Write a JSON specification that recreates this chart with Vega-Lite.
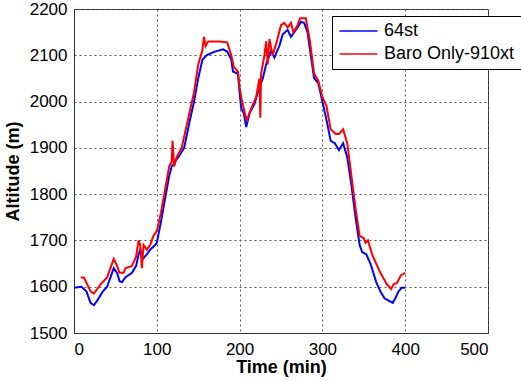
{
  "$schema": "https://vega.github.io/schema/vega-lite/v6.json",
  "width": 414,
  "height": 324,
  "autosize": {"type": "none"},
  "padding": {"left": 74, "top": 9, "right": 33, "bottom": 48},
  "background": "white",
  "config": {
    "view": {"stroke": "#333333", "strokeWidth": 1},
    "font": "Liberation Sans",
    "axis": {"grid": true, "gridColor": "#555555", "gridDash": [2, 3], "gridWidth": 1, "gridOpacity": 1}
  },
  "data": {
    "values": [
      {"t": 0, "alt": 1598, "s": "64st"},
      {"t": 9, "alt": 1600, "s": "64st"},
      {"t": 15, "alt": 1590, "s": "64st"},
      {"t": 20, "alt": 1565, "s": "64st"},
      {"t": 24, "alt": 1560, "s": "64st"},
      {"t": 28, "alt": 1570, "s": "64st"},
      {"t": 35, "alt": 1590, "s": "64st"},
      {"t": 40, "alt": 1600, "s": "64st"},
      {"t": 45, "alt": 1625, "s": "64st"},
      {"t": 48, "alt": 1640, "s": "64st"},
      {"t": 52, "alt": 1630, "s": "64st"},
      {"t": 55, "alt": 1612, "s": "64st"},
      {"t": 58, "alt": 1610, "s": "64st"},
      {"t": 62, "alt": 1620, "s": "64st"},
      {"t": 70, "alt": 1630, "s": "64st"},
      {"t": 75, "alt": 1645, "s": "64st"},
      {"t": 78, "alt": 1670, "s": "64st"},
      {"t": 80, "alt": 1680, "s": "64st"},
      {"t": 83, "alt": 1660, "s": "64st"},
      {"t": 88, "alt": 1670, "s": "64st"},
      {"t": 92, "alt": 1680, "s": "64st"},
      {"t": 98, "alt": 1690, "s": "64st"},
      {"t": 100, "alt": 1695, "s": "64st"},
      {"t": 105, "alt": 1740, "s": "64st"},
      {"t": 110, "alt": 1790, "s": "64st"},
      {"t": 115, "alt": 1840, "s": "64st"},
      {"t": 118, "alt": 1860, "s": "64st"},
      {"t": 122, "alt": 1870, "s": "64st"},
      {"t": 128, "alt": 1885, "s": "64st"},
      {"t": 133, "alt": 1900, "s": "64st"},
      {"t": 140, "alt": 1960, "s": "64st"},
      {"t": 145, "alt": 2000, "s": "64st"},
      {"t": 150, "alt": 2050, "s": "64st"},
      {"t": 155, "alt": 2090, "s": "64st"},
      {"t": 160, "alt": 2100, "s": "64st"},
      {"t": 170, "alt": 2108, "s": "64st"},
      {"t": 180, "alt": 2113, "s": "64st"},
      {"t": 185, "alt": 2108, "s": "64st"},
      {"t": 190, "alt": 2090, "s": "64st"},
      {"t": 192, "alt": 2065, "s": "64st"},
      {"t": 198, "alt": 2060, "s": "64st"},
      {"t": 200, "alt": 2020, "s": "64st"},
      {"t": 202, "alt": 1985, "s": "64st"},
      {"t": 205, "alt": 1975, "s": "64st"},
      {"t": 208, "alt": 1945, "s": "64st"},
      {"t": 212, "alt": 1975, "s": "64st"},
      {"t": 218, "alt": 1995, "s": "64st"},
      {"t": 222, "alt": 2020, "s": "64st"},
      {"t": 228, "alt": 2050, "s": "64st"},
      {"t": 232, "alt": 2080, "s": "64st"},
      {"t": 238, "alt": 2110, "s": "64st"},
      {"t": 242, "alt": 2095, "s": "64st"},
      {"t": 248, "alt": 2120, "s": "64st"},
      {"t": 252, "alt": 2145, "s": "64st"},
      {"t": 258, "alt": 2155, "s": "64st"},
      {"t": 262, "alt": 2140, "s": "64st"},
      {"t": 266, "alt": 2150, "s": "64st"},
      {"t": 270, "alt": 2160, "s": "64st"},
      {"t": 274, "alt": 2172, "s": "64st"},
      {"t": 278, "alt": 2170, "s": "64st"},
      {"t": 282, "alt": 2150, "s": "64st"},
      {"t": 286, "alt": 2100, "s": "64st"},
      {"t": 290, "alt": 2050, "s": "64st"},
      {"t": 295, "alt": 2040, "s": "64st"},
      {"t": 300, "alt": 2000, "s": "64st"},
      {"t": 305, "alt": 1960, "s": "64st"},
      {"t": 310, "alt": 1915, "s": "64st"},
      {"t": 315, "alt": 1910, "s": "64st"},
      {"t": 320, "alt": 1895, "s": "64st"},
      {"t": 325, "alt": 1910, "s": "64st"},
      {"t": 330, "alt": 1880, "s": "64st"},
      {"t": 335, "alt": 1820, "s": "64st"},
      {"t": 340, "alt": 1750, "s": "64st"},
      {"t": 345, "alt": 1690, "s": "64st"},
      {"t": 348, "alt": 1675, "s": "64st"},
      {"t": 353, "alt": 1670, "s": "64st"},
      {"t": 358, "alt": 1650, "s": "64st"},
      {"t": 365, "alt": 1610, "s": "64st"},
      {"t": 370, "alt": 1590, "s": "64st"},
      {"t": 375, "alt": 1575, "s": "64st"},
      {"t": 380, "alt": 1570, "s": "64st"},
      {"t": 385, "alt": 1565, "s": "64st"},
      {"t": 388, "alt": 1575, "s": "64st"},
      {"t": 392, "alt": 1590, "s": "64st"},
      {"t": 396, "alt": 1598, "s": "64st"},
      {"t": 400, "alt": 1598, "s": "64st"},
      {"t": 8, "alt": 1620, "s": "Baro Only-910xt"},
      {"t": 12, "alt": 1620, "s": "Baro Only-910xt"},
      {"t": 16, "alt": 1605, "s": "Baro Only-910xt"},
      {"t": 20, "alt": 1590, "s": "Baro Only-910xt"},
      {"t": 24, "alt": 1585, "s": "Baro Only-910xt"},
      {"t": 28, "alt": 1595, "s": "Baro Only-910xt"},
      {"t": 32, "alt": 1605, "s": "Baro Only-910xt"},
      {"t": 40, "alt": 1620, "s": "Baro Only-910xt"},
      {"t": 45, "alt": 1645, "s": "Baro Only-910xt"},
      {"t": 48, "alt": 1660, "s": "Baro Only-910xt"},
      {"t": 52, "alt": 1645, "s": "Baro Only-910xt"},
      {"t": 55, "alt": 1630, "s": "Baro Only-910xt"},
      {"t": 60, "alt": 1630, "s": "Baro Only-910xt"},
      {"t": 62, "alt": 1640, "s": "Baro Only-910xt"},
      {"t": 70, "alt": 1645, "s": "Baro Only-910xt"},
      {"t": 75, "alt": 1665, "s": "Baro Only-910xt"},
      {"t": 78, "alt": 1700, "s": "Baro Only-910xt"},
      {"t": 80, "alt": 1690, "s": "Baro Only-910xt"},
      {"t": 82, "alt": 1640, "s": "Baro Only-910xt"},
      {"t": 84, "alt": 1690, "s": "Baro Only-910xt"},
      {"t": 88, "alt": 1680, "s": "Baro Only-910xt"},
      {"t": 92, "alt": 1690, "s": "Baro Only-910xt"},
      {"t": 96, "alt": 1710, "s": "Baro Only-910xt"},
      {"t": 100, "alt": 1720, "s": "Baro Only-910xt"},
      {"t": 105, "alt": 1760, "s": "Baro Only-910xt"},
      {"t": 110, "alt": 1810, "s": "Baro Only-910xt"},
      {"t": 115, "alt": 1860, "s": "Baro Only-910xt"},
      {"t": 118, "alt": 1870, "s": "Baro Only-910xt"},
      {"t": 119, "alt": 1915, "s": "Baro Only-910xt"},
      {"t": 121, "alt": 1860, "s": "Baro Only-910xt"},
      {"t": 124, "alt": 1880, "s": "Baro Only-910xt"},
      {"t": 130, "alt": 1900, "s": "Baro Only-910xt"},
      {"t": 140, "alt": 1980, "s": "Baro Only-910xt"},
      {"t": 145, "alt": 2020, "s": "Baro Only-910xt"},
      {"t": 150, "alt": 2080, "s": "Baro Only-910xt"},
      {"t": 155, "alt": 2110, "s": "Baro Only-910xt"},
      {"t": 157, "alt": 2140, "s": "Baro Only-910xt"},
      {"t": 159, "alt": 2120, "s": "Baro Only-910xt"},
      {"t": 162, "alt": 2130, "s": "Baro Only-910xt"},
      {"t": 175, "alt": 2130, "s": "Baro Only-910xt"},
      {"t": 185, "alt": 2128, "s": "Baro Only-910xt"},
      {"t": 190, "alt": 2100, "s": "Baro Only-910xt"},
      {"t": 193, "alt": 2075, "s": "Baro Only-910xt"},
      {"t": 198, "alt": 2065, "s": "Baro Only-910xt"},
      {"t": 200, "alt": 2030, "s": "Baro Only-910xt"},
      {"t": 203, "alt": 2000, "s": "Baro Only-910xt"},
      {"t": 207, "alt": 1970, "s": "Baro Only-910xt"},
      {"t": 209, "alt": 1960, "s": "Baro Only-910xt"},
      {"t": 214, "alt": 1985, "s": "Baro Only-910xt"},
      {"t": 220, "alt": 2010, "s": "Baro Only-910xt"},
      {"t": 224, "alt": 2050, "s": "Baro Only-910xt"},
      {"t": 225, "alt": 1965, "s": "Baro Only-910xt"},
      {"t": 226, "alt": 2060, "s": "Baro Only-910xt"},
      {"t": 230, "alt": 2100, "s": "Baro Only-910xt"},
      {"t": 232, "alt": 2130, "s": "Baro Only-910xt"},
      {"t": 234, "alt": 2080, "s": "Baro Only-910xt"},
      {"t": 236, "alt": 2135, "s": "Baro Only-910xt"},
      {"t": 240, "alt": 2100, "s": "Baro Only-910xt"},
      {"t": 245, "alt": 2130, "s": "Baro Only-910xt"},
      {"t": 250, "alt": 2165, "s": "Baro Only-910xt"},
      {"t": 254, "alt": 2170, "s": "Baro Only-910xt"},
      {"t": 258, "alt": 2160, "s": "Baro Only-910xt"},
      {"t": 262, "alt": 2170, "s": "Baro Only-910xt"},
      {"t": 265, "alt": 2150, "s": "Baro Only-910xt"},
      {"t": 270, "alt": 2165, "s": "Baro Only-910xt"},
      {"t": 273, "alt": 2180, "s": "Baro Only-910xt"},
      {"t": 280, "alt": 2180, "s": "Baro Only-910xt"},
      {"t": 285, "alt": 2130, "s": "Baro Only-910xt"},
      {"t": 290, "alt": 2060, "s": "Baro Only-910xt"},
      {"t": 295, "alt": 2045, "s": "Baro Only-910xt"},
      {"t": 300, "alt": 2010, "s": "Baro Only-910xt"},
      {"t": 305, "alt": 1990, "s": "Baro Only-910xt"},
      {"t": 310, "alt": 1940, "s": "Baro Only-910xt"},
      {"t": 316, "alt": 1930, "s": "Baro Only-910xt"},
      {"t": 320, "alt": 1930, "s": "Baro Only-910xt"},
      {"t": 325, "alt": 1940, "s": "Baro Only-910xt"},
      {"t": 330, "alt": 1910, "s": "Baro Only-910xt"},
      {"t": 335, "alt": 1840, "s": "Baro Only-910xt"},
      {"t": 340, "alt": 1770, "s": "Baro Only-910xt"},
      {"t": 345, "alt": 1710, "s": "Baro Only-910xt"},
      {"t": 350, "alt": 1705, "s": "Baro Only-910xt"},
      {"t": 352, "alt": 1695, "s": "Baro Only-910xt"},
      {"t": 355, "alt": 1700, "s": "Baro Only-910xt"},
      {"t": 360, "alt": 1670, "s": "Baro Only-910xt"},
      {"t": 370, "alt": 1630, "s": "Baro Only-910xt"},
      {"t": 378, "alt": 1605, "s": "Baro Only-910xt"},
      {"t": 383, "alt": 1595, "s": "Baro Only-910xt"},
      {"t": 386, "alt": 1605, "s": "Baro Only-910xt"},
      {"t": 390, "alt": 1608, "s": "Baro Only-910xt"},
      {"t": 395, "alt": 1625, "s": "Baro Only-910xt"},
      {"t": 400, "alt": 1630, "s": "Baro Only-910xt"}
    ]
  },
  "mark": {"type": "line", "strokeWidth": 2, "clip": true},
  "encoding": {
    "x": {
      "field": "t", "type": "quantitative",
      "scale": {"domain": [0, 500], "nice": false},
      "axis": {
        "title": "Time (min)", "values": [0, 100, 200, 300, 400, 500], "format": "d",
        "titleFont": "Liberation Sans", "titleFontSize": 18, "titleFontWeight": "bold", "titleColor": "black", "titlePadding": 1,
        "labelFont": "Liberation Sans", "labelFontSize": 17, "labelColor": "black", "labelPadding": 8,
        "ticks": false, "domainColor": "#333333"
      }
    },
    "y": {
      "field": "alt", "type": "quantitative",
      "scale": {"domain": [1500, 2200], "nice": false},
      "axis": {
        "title": "Altitude (m)", "values": [1500, 1600, 1700, 1800, 1900, 2000, 2100, 2200], "format": "d",
        "titleFont": "Liberation Sans", "titleFontSize": 18, "titleFontWeight": "bold", "titleColor": "black", "titlePadding": 7,
        "labelFont": "Liberation Sans", "labelFontSize": 17, "labelColor": "black", "labelPadding": 7,
        "ticks": false, "domainColor": "#333333"
      }
    },
    "color": {
      "field": "s", "type": "nominal",
      "scale": {"domain": ["64st", "Baro Only-910xt"], "range": ["#0000ff", "#ff0000"]},
      "legend": {
        "title": null, "orient": "none", "legendX": 258, "legendY": 7,
        "symbolType": "M-1,0H4.07", "symbolSize": 225, "symbolStrokeWidth": 1.5,
        "labelFont": "Liberation Sans", "labelFontSize": 18, "labelColor": "black",
        "fillColor": "white", "strokeColor": "black", "padding": 6, "rowPadding": 5,
        "labelOffset": 28, "labelLimit": 300
      }
    }
  }
}
